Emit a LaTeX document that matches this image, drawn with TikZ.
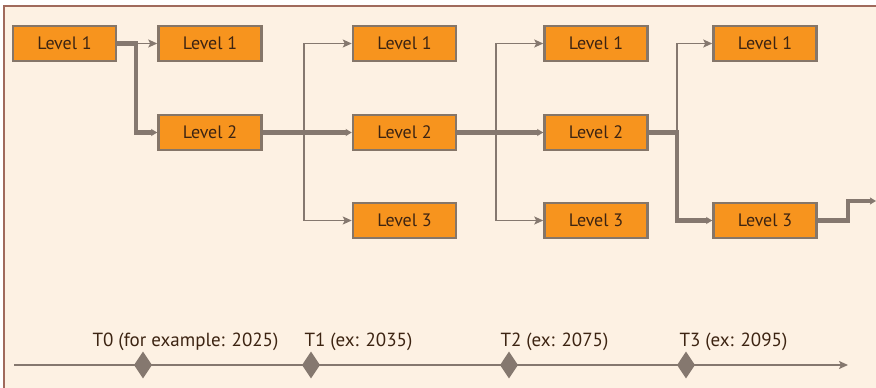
\documentclass[tikz,border=0pt]{standalone}
\usepackage{fontspec}
\setmainfont{PT Sans}
\usetikzlibrary{arrows.meta,shapes.geometric}
\definecolor{bgcream}{HTML}{FDF1E3}
\definecolor{framec}{HTML}{A06A5C}
\definecolor{boxfill}{HTML}{F7941E}
\definecolor{boxline}{HTML}{857669}
\definecolor{conn}{HTML}{85786F}
\definecolor{txt}{HTML}{3D2412}
\tikzset{
  lvl/.style={draw=boxline, fill=boxfill, line width=2.5pt, minimum width=103pt, minimum height=35pt, inner sep=0pt, text=txt, font=\fontsize{18}{18}\selectfont},
  thin/.style={draw=conn, line width=1.8pt, -{Stealth[length=9pt,width=8pt,inset=2pt]}},
  thinline/.style={draw=conn, line width=1.8pt},
  thick/.style={draw=conn, line width=4.5pt, -{Stealth[length=6pt,width=7pt,inset=1pt]}},
  tdiam/.style={diamond, fill=conn, minimum width=18pt, minimum height=27pt, inner sep=0pt},
  tlab/.style={anchor=base west, text=txt, font=\fontsize{19}{19}\selectfont}
}
\begin{document}
\begin{tikzpicture}[x=1pt,y=-1pt]
\useasboundingbox (0,0) rectangle (876,388);
\fill[bgcream] (4,6) rectangle (876,388);
\draw[framec, line width=2pt] (4,388) -- (4,6) -- (876,6);
% boxes
\node[lvl] (A) at (64.5,43.5) {Level 1};
\node[lvl] (B1) at (210,43.5) {Level 1};
\node[lvl] (B2) at (210,132.5) {Level 2};
\node[lvl] (C1) at (404.5,43.5) {Level 1};
\node[lvl] (C2) at (404.5,132.5) {Level 2};
\node[lvl] (C3) at (404.5,220.5) {Level 3};
\node[lvl] (D1) at (596,43.5) {Level 1};
\node[lvl] (D2) at (596,132.5) {Level 2};
\node[lvl] (D3) at (596,220.5) {Level 3};
\node[lvl] (E1) at (765,43.5) {Level 1};
\node[lvl] (E3) at (765,220.5) {Level 3};
% branch points
\coordinate (pa) at (136,43.5);
\coordinate (pb) at (304,132.5);
\coordinate (pc) at (496,132.5);
\coordinate (pd) at (677,132.5);
\coordinate (pe) at (848,220.5);
\coordinate (out) at (876,201);
% connectors
\draw[thin] (pa) -- (B1.west);
\draw[thick] (A.east) -- (pa) |- (B2.west);
\draw[thin] (pb) |- (C1.west);
\draw[thin] (pb) |- (C3.west);
\draw[thick] (B2.east) -- (C2.west);
\draw[thin] (pc) |- (D1.west);
\draw[thin] (pc) |- (D3.west);
\draw[thick] (C2.east) -- (D2.west);
\draw[thin] (pd) |- (E1.west);
\draw[thick] (D2.east) -- (pd) |- (E3.west);
\draw[thick] (E3.east) -- (pe) |- (out);
% timeline
\coordinate (t0) at (14,365);
\coordinate (t1) at (848,365);
\draw[draw=conn, line width=1.8pt, -{Stealth[length=9pt,width=8pt,inset=2pt]}] (t0) -- (t1);
\node[tdiam] (d0) at (143,365) {};
\node[tdiam] (d1) at (311,365) {};
\node[tdiam] (d2) at (509,365) {};
\node[tdiam] (d3) at (686,365) {};
\node[tlab] (l0) at (89,346) {T0 (for example: 2025)};
\node[tlab] (l1) at (301,346) {T1 (ex: 2035)};
\node[tlab] (l2) at (497,346) {T2 (ex: 2075)};
\node[tlab] (l3) at (676,346) {T3 (ex: 2095)};
\end{tikzpicture}
\end{document}
